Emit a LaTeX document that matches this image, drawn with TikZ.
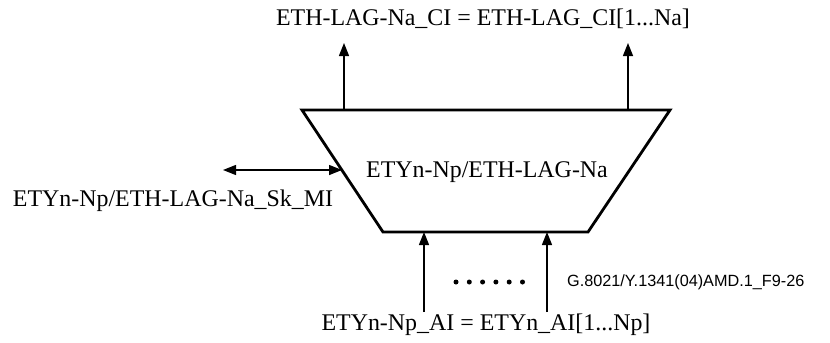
\documentclass[tikz,border=0pt]{standalone}
\usepackage{fontspec}
\setmainfont{Liberation Serif}
\newfontfamily\labelfont{Liberation Sans}
\usetikzlibrary{arrows.meta}
\begin{document}
\begin{tikzpicture}[
  x=1bp, y=-1bp,
  lbl/.style={inner sep=0pt, font=\fontsize{24}{27}\selectfont},
  conn/.style={line width=1.4bp, -{Triangle[length=13bp,width=10bp]}},
  biconn/.style={conn, {Triangle[length=13bp,width=10bp]}-{Triangle[length=13bp,width=10bp]}},
  fig_id/.style={inner sep=0pt, font=\labelfont\fontsize{16.3}{19}\selectfont},
]
  \useasboundingbox (0,0) rectangle (830,342);

  % Trapezoid function block
  \coordinate (tl) at (302,110);
  \coordinate (tr) at (670,110);
  \coordinate (br) at (588,232);
  \coordinate (bl) at (383,232);
  \draw[line width=2.8bp, line join=miter] (tl) -- (tr) -- (br) -- (bl) -- cycle;
  \node[lbl] at (487,172) (func) {ETYn-Np/ETH-LAG-Na};

  % Top: client interface
  \node[lbl] at (483,19) (ci) {ETH-LAG-Na\_CI = ETH-LAG\_CI[1...Na]};
  \coordinate (ci_a) at (344,110);
  \coordinate (ci_a_end) at (344,43);
  \coordinate (ci_b) at (628,110);
  \coordinate (ci_b_end) at (628,43);
  \draw[conn] (ci_a) -- (ci_a_end);
  \draw[conn] (ci_b) -- (ci_b_end);

  % Left: management interface
  \node[lbl] at (173,201) (mi) {ETYn-Np/ETH-LAG-Na\_Sk\_MI};
  \coordinate (mi_l) at (223,170);
  \coordinate (mi_r) at (342,170);
  \draw[biconn] (mi_l) -- (mi_r);

  % Bottom: access interfaces
  \node[lbl] at (486,325) (ai) {ETYn-Np\_AI = ETYn\_AI[1...Np]};
  \coordinate (ai_a) at (424,312);
  \coordinate (ai_a_end) at (424,232);
  \coordinate (ai_b) at (547,312);
  \coordinate (ai_b_end) at (547,232);
  \draw[conn] (ai_a) -- (ai_a_end);
  \draw[conn] (ai_b) -- (ai_b_end);
  \foreach \i in {0,...,5}
    \fill (456+\i*13.3,282) circle (2.5bp);

  % Figure identifier
  \node[fig_id, anchor=west] at (567,282) (figid) {G.8021/Y.1341(04)AMD.1\_F9-26};
\end{tikzpicture}
\end{document}
